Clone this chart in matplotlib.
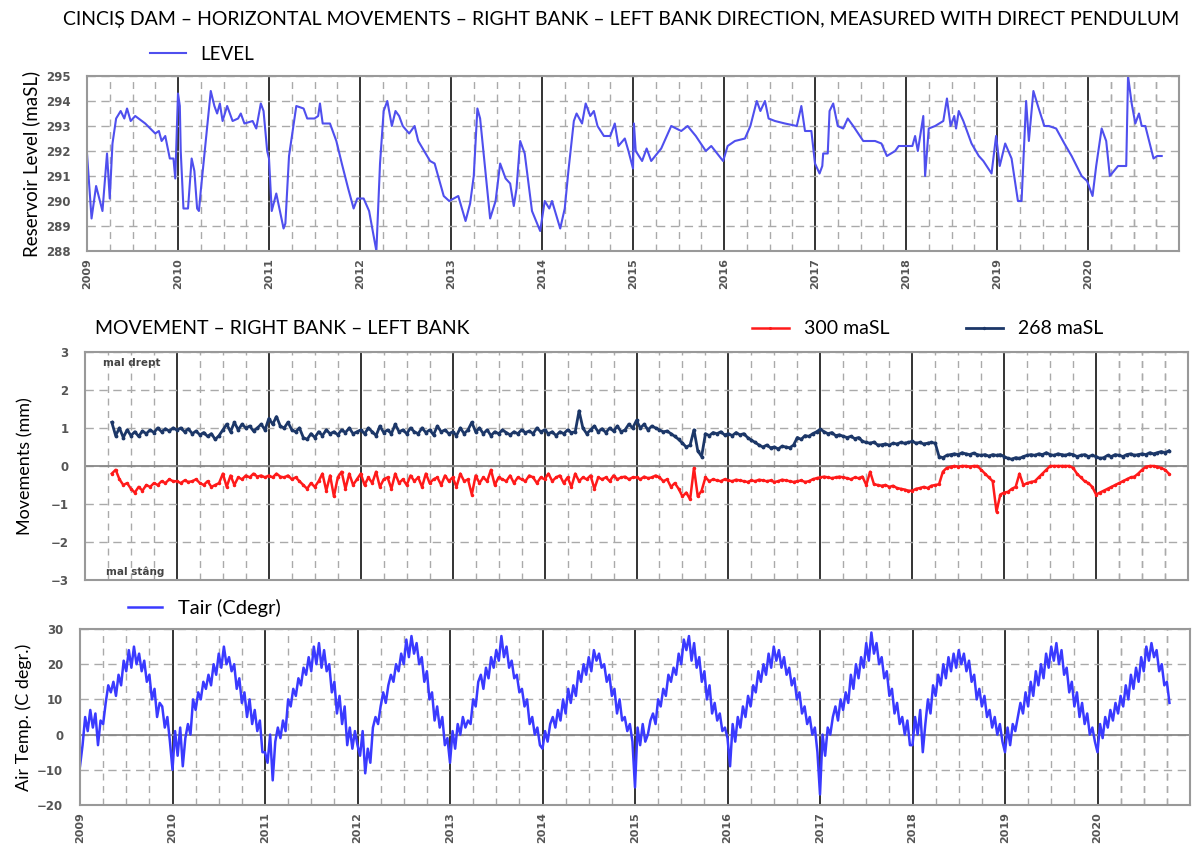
import numpy as np
import matplotlib.pyplot as plt
from matplotlib.ticker import MultipleLocator

# reservoir level (maSL)
lvl_t = [2009.00, 2009.05, 2009.10, 2009.17, 2009.22, 2009.25, 2009.28, 2009.32, 2009.37, 2009.41,
         2009.44, 2009.48, 2009.53, 2009.64, 2009.75, 2009.79, 2009.82, 2009.86, 2009.91, 2009.95,
         2009.97, 2010.00, 2010.02, 2010.03, 2010.06, 2010.11, 2010.15, 2010.18, 2010.21, 2010.23,
         2010.25, 2010.30, 2010.36, 2010.40, 2010.43, 2010.46, 2010.49, 2010.54, 2010.60, 2010.66,
         2010.69, 2010.73, 2010.82, 2010.86, 2010.91, 2010.94, 2010.98, 2011.00, 2011.03, 2011.08,
         2011.12, 2011.16, 2011.18, 2011.22, 2011.26, 2011.30, 2011.38, 2011.42, 2011.50, 2011.54,
         2011.56, 2011.59, 2011.67, 2011.74, 2011.80, 2011.87, 2011.93, 2011.97, 2012.04, 2012.10,
         2012.18, 2012.22, 2012.26, 2012.30, 2012.35, 2012.39, 2012.43, 2012.47, 2012.54, 2012.60,
         2012.64, 2012.77, 2012.82, 2012.92, 2012.98, 2013.08, 2013.16, 2013.21, 2013.25, 2013.29,
         2013.32, 2013.43, 2013.49, 2013.54, 2013.60, 2013.65, 2013.69, 2013.72, 2013.76, 2013.81,
         2013.89, 2013.98, 2014.03, 2014.08, 2014.11, 2014.20, 2014.25, 2014.29, 2014.35, 2014.38,
         2014.44, 2014.48, 2014.53, 2014.57, 2014.61, 2014.68, 2014.75, 2014.80, 2014.84, 2014.91,
         2014.95, 2015.00, 2015.01, 2015.03, 2015.10, 2015.15, 2015.20, 2015.31, 2015.42, 2015.53,
         2015.60, 2015.69, 2015.80, 2015.86, 2015.99, 2016.04, 2016.12, 2016.23, 2016.29, 2016.36,
         2016.40, 2016.45, 2016.49, 2016.56, 2016.67, 2016.80, 2016.85, 2016.89, 2016.96, 2017.00,
         2017.05, 2017.08, 2017.09, 2017.14, 2017.16, 2017.20, 2017.25, 2017.31, 2017.36, 2017.42,
         2017.53, 2017.66, 2017.73, 2017.79, 2017.88, 2017.92, 2017.99, 2018.07, 2018.10, 2018.13,
         2018.19, 2018.21, 2018.25, 2018.32, 2018.41, 2018.45, 2018.49, 2018.53, 2018.55, 2018.58,
         2018.63, 2018.72, 2018.80, 2018.85, 2018.94, 2018.99, 2019.03, 2019.09, 2019.16, 2019.23,
         2019.27, 2019.32, 2019.35, 2019.40, 2019.45, 2019.52, 2019.57, 2019.65, 2019.74, 2019.82,
         2019.93, 2019.99, 2020.05, 2020.09, 2020.15, 2020.20, 2020.24, 2020.33, 2020.42, 2020.44,
         2020.48, 2020.52, 2020.56, 2020.59, 2020.63, 2020.72, 2020.76, 2020.81]
lvl_v = [291.9, 289.3, 290.6, 289.6, 291.9, 290.1, 292.3, 293.3, 293.6, 293.3,
         293.7, 293.2, 293.4, 293.1, 292.7, 292.8, 292.4, 292.6, 291.7, 291.7,
         290.9, 294.3, 293.8, 292.0, 289.7, 289.7, 291.7, 291.2, 289.7, 289.6,
         290.4, 292.2, 294.4, 293.8, 293.5, 293.9, 293.2, 293.8, 293.2, 293.3,
         293.5, 293.1, 293.2, 292.9, 293.9, 293.6, 292.0, 291.7, 289.6, 290.3,
         289.6, 288.9, 289.1, 291.8, 292.8, 293.8, 293.7, 293.3, 293.3, 293.4,
         293.9, 293.1, 293.1, 292.4, 291.5, 290.5, 289.7, 290.1, 290.1, 289.6,
         288.0, 291.5, 293.6, 294.0, 293.0, 293.6, 293.4, 293.0, 292.7, 293.0,
         292.4, 291.6, 291.5, 290.2, 290.0, 290.2, 289.2, 289.9, 291.0, 293.7,
         293.3, 289.3, 290.0, 291.5, 290.9, 290.7, 289.8, 290.5, 292.4, 291.9,
         289.6, 288.8, 290.0, 289.7, 290.0, 288.9, 289.7, 291.2, 293.2, 293.5,
         293.1, 293.9, 293.4, 293.6, 293.0, 292.6, 292.6, 293.1, 292.2, 292.5,
         292.0, 291.3, 293.1, 292.0, 291.6, 292.1, 291.6, 292.1, 293.0, 292.8,
         293.0, 292.6, 292.0, 292.2, 291.6, 292.2, 292.4, 292.5, 293.0, 294.0,
         293.6, 294.0, 293.3, 293.2, 293.1, 293.0, 293.8, 292.8, 292.8, 291.5,
         291.1, 291.4, 291.9, 291.9, 293.6, 293.9, 293.0, 292.9, 293.3, 293.0,
         292.4, 292.4, 292.3, 291.8, 292.0, 292.2, 292.2, 292.2, 292.6, 292.0,
         293.4, 291.0, 292.9, 293.0, 293.2, 294.1, 293.0, 293.4, 292.9, 293.6,
         293.2, 292.3, 291.8, 291.6, 291.1, 292.6, 291.4, 292.3, 291.7, 290.0,
         290.0, 294.0, 292.4, 294.4, 293.8, 293.0, 293.0, 292.9, 292.3, 291.8,
         291.0, 290.8, 290.2, 291.4, 292.9, 292.4, 291.0, 291.4, 291.4, 295.0,
         293.9, 293.1, 293.5, 293.0, 293.0, 291.7, 291.8, 291.8]

# pendulum movements (mm), two readings a month from April 2009
mv_start = 2009 + 7 / 24
mov_268 = [1.15, 0.8, 1.0, 0.75, 0.95, 0.8, 0.9, 0.78, 0.92, 0.85, 0.95, 0.88, 1.0, 0.9, 0.98, 0.92, 1.0,
           0.95, 1.0, 0.9, 0.98, 0.85, 0.92, 0.82, 0.88, 0.78, 0.85, 0.7, 0.8, 0.95, 1.1, 0.9, 1.15, 0.95, 1.1, 1.0, 1.05, 0.92, 1.0, 1.1, 0.95,
           1.25, 1.1, 1.3, 1.05, 1.0, 1.15, 0.95, 0.9, 1.0, 0.75, 0.7, 0.85, 0.75, 0.9, 0.8, 0.95, 0.85, 0.9, 0.82, 0.95, 0.88, 1.0, 0.85, 0.9,
           0.95, 0.85, 1.0, 0.9, 0.8, 1.05, 0.88, 0.95, 0.85, 1.1, 0.9, 0.95, 0.85, 1.0, 0.9, 0.85, 1.0, 0.88, 0.95, 0.82, 1.05, 0.9, 0.95, 0.85,
           0.9, 0.8, 1.0, 0.85, 0.95, 1.15, 0.9, 1.0, 0.85, 0.95, 0.8, 0.9, 0.85, 0.95, 0.88, 0.82, 0.9, 0.85, 0.95, 0.88, 0.92, 0.85, 1.0, 0.9,
           0.95, 0.85, 0.9, 0.8, 0.9, 0.85, 0.95, 0.88, 0.9, 1.45, 1.0, 0.85, 0.95, 1.05, 0.9, 0.98, 0.88, 1.0, 0.92, 1.05, 0.9, 0.95, 1.1, 1.0,
           1.2, 1.0, 1.1, 0.95, 1.05, 1.0, 0.95, 0.9, 0.92, 0.85, 0.78, 0.7, 0.6, 0.5, 0.55, 0.95, 0.4, 0.25, 0.85, 0.8, 0.88, 0.85, 0.9, 0.82,
           0.85, 0.8, 0.88, 0.82, 0.85, 0.75, 0.68, 0.62, 0.55, 0.5, 0.55, 0.48, 0.5, 0.45, 0.52, 0.5, 0.48, 0.55, 0.75, 0.7, 0.8, 0.78, 0.85, 0.9,
           0.97, 0.9, 0.85, 0.88, 0.8, 0.82, 0.78, 0.75, 0.78, 0.72, 0.75, 0.65, 0.62, 0.6, 0.63, 0.55, 0.56, 0.58, 0.55, 0.6, 0.58, 0.62, 0.6, 0.62,
           0.65, 0.6, 0.62, 0.58, 0.6, 0.62, 0.6, 0.25, 0.22, 0.28, 0.3, 0.32, 0.3, 0.35, 0.32, 0.3, 0.34, 0.3, 0.28, 0.3, 0.26, 0.3, 0.28, 0.3,
           0.25, 0.2, 0.18, 0.22, 0.2, 0.25, 0.28, 0.3, 0.28, 0.32, 0.3, 0.35, 0.3, 0.28, 0.32, 0.3, 0.28, 0.32, 0.3, 0.25, 0.28, 0.3, 0.25, 0.28,
           0.25, 0.2, 0.22, 0.28, 0.25, 0.3, 0.28, 0.25, 0.3, 0.32, 0.28, 0.3, 0.32, 0.3, 0.35, 0.32, 0.35, 0.38, 0.35, 0.4]
mov_300 = [-0.2, -0.1, -0.35, -0.5, -0.45, -0.6, -0.7, -0.55, -0.65, -0.5, -0.55, -0.45, -0.5, -0.4, -0.45, -0.35, -0.4,
           -0.4, -0.45, -0.38, -0.42, -0.4, -0.35, -0.45, -0.5, -0.4, -0.55, -0.5, -0.45, -0.2, -0.55, -0.25, -0.5, -0.3, -0.35, -0.25, -0.3, -0.2, -0.28, -0.25, -0.3,
           -0.25, -0.3, -0.2, -0.28, -0.3, -0.25, -0.35, -0.3, -0.4, -0.5, -0.6, -0.45, -0.55, -0.4, -0.2, -0.65, -0.25, -0.8, -0.3, -0.15, -0.6, -0.2, -0.5, -0.35,
           -0.2, -0.5, -0.3, -0.45, -0.15, -0.55, -0.35, -0.3, -0.6, -0.2, -0.45, -0.35, -0.5, -0.25, -0.4, -0.3, -0.55, -0.2, -0.45, -0.35, -0.3, -0.5, -0.25, -0.4,
           -0.3, -0.55, -0.2, -0.4, -0.35, -0.75, -0.25, -0.45, -0.3, -0.4, -0.1, -0.5, -0.3, -0.35, -0.4, -0.25, -0.45, -0.3, -0.35, -0.4, -0.25, -0.3, -0.45, -0.3,
           -0.35, -0.2, -0.4, -0.3, -0.25, -0.45, -0.3, -0.55, -0.2, -0.4, -0.3, -0.35, -0.25, -0.6, -0.3, -0.35, -0.3, -0.4, -0.25, -0.35, -0.3, -0.28, -0.35, -0.3,
           -0.3, -0.35, -0.28, -0.32, -0.3, -0.25, -0.3, -0.4, -0.35, -0.55, -0.45, -0.6, -0.8, -0.7, -0.88, -0.05, -0.8, -0.65, -0.3, -0.4, -0.35, -0.38, -0.4, -0.35,
           -0.38, -0.4, -0.36, -0.38, -0.4, -0.42, -0.38, -0.4, -0.36, -0.38, -0.4, -0.38, -0.42, -0.4, -0.36, -0.38, -0.4, -0.42, -0.4, -0.38, -0.42, -0.4, -0.35, -0.32,
           -0.3, -0.28, -0.3, -0.32, -0.3, -0.28, -0.3, -0.32, -0.35, -0.3, -0.32, -0.28, -0.5, -0.15, -0.48, -0.5, -0.52, -0.5, -0.55, -0.52, -0.58, -0.6, -0.62, -0.65,
           -0.65, -0.6, -0.58, -0.55, -0.58, -0.52, -0.5, -0.48, -0.15, -0.05, -0.02, 0.0, -0.02, 0.0, 0.0, -0.02, 0.0, 0.0, -0.1, -0.2, -0.3, -0.4, -1.2, -0.75,
           -0.7, -0.68, -0.6, -0.55, -0.2, -0.5, -0.45, -0.42, -0.4, -0.3, -0.2, -0.1, 0.0, 0.0, 0.0, 0.0, 0.0, 0.0, -0.05, -0.2, -0.3, -0.4, -0.45, -0.55,
           -0.75, -0.7, -0.65, -0.6, -0.55, -0.5, -0.45, -0.4, -0.35, -0.3, -0.28, -0.2, -0.1, -0.02, 0.0, 0.0, -0.02, -0.05, -0.1, -0.2]

# air temperature (C), about every 10 days from Jan 2009
tair = [-9, -3, 5, 1, 7, 2, 6, -3, 4, 3, 9, 14, 12, 15, 11, 17, 14, 21, 18, 24, 19, 25, 20, 23, 18, 21, 15, 17, 10, 13, 5, 9, 8, 2, 5, -2,
        -10, 1, -6, 2, -9, -1, 3, 0, 10, 7, 12, 10, 15, 13, 17, 14, 20, 17, 23, 19, 25, 20, 22, 18, 20, 13, 16, 9, 12, 5, 10, 3, 7, 1, 4, -5,
        -5, -8, 0, -13, -2, 2, -1, 4, 1, 10, 8, 13, 11, 16, 14, 19, 17, 22, 18, 25, 20, 26, 19, 24, 18, 20, 12, 15, 6, 11, 3, 8, -3, 2, -4, 1,
        -3, -6, 1, -11, -4, -8, 2, 5, 3, 8, 12, 9, 14, 17, 15, 20, 18, 23, 20, 27, 22, 28, 23, 26, 20, 22, 15, 18, 10, 12, 4, 8, 2, 5, -3, -1,
        -8, 1, -4, 3, 0, 5, 2, 4, 3, 10, 8, 15, 17, 13, 19, 16, 22, 19, 24, 21, 28, 22, 25, 19, 21, 16, 17, 12, 13, 8, 10, 3, 5, 0, 2, -3,
        -4, 1, -2, 3, 5, 2, 7, 4, 10, 6, 13, 9, 14, 11, 18, 15, 20, 17, 22, 18, 24, 21, 23, 19, 20, 15, 17, 11, 13, 6, 10, 4, 5, 1, 3, -2,
        -15, 2, -3, 3, -2, 0, 4, 6, 3, 10, 8, 13, 11, 17, 15, 19, 17, 23, 20, 27, 24, 28, 21, 26, 19, 22, 15, 18, 10, 14, 6, 9, 4, 6, 1, 2,
        -1, -9, 3, -2, 5, 2, 8, 5, 11, 8, 14, 12, 18, 15, 20, 17, 23, 19, 25, 21, 24, 19, 22, 17, 19, 14, 16, 10, 12, 6, 8, 3, 5, 0, 2, -5,
        -17, 0, -6, 2, 0, 5, 8, 4, 10, 7, 12, 9, 17, 13, 20, 16, 22, 19, 26, 21, 29, 23, 26, 20, 22, 16, 18, 11, 13, 6, 9, 3, 5, 0, 4, -3,
        -3, 5, 0, 7, -5, 3, 10, 6, 14, 11, 17, 14, 20, 16, 22, 18, 23, 19, 24, 20, 23, 18, 21, 15, 17, 10, 13, 8, 11, 5, 7, 2, 5, 0, 3, -2,
        -5, 2, -3, 3, 1, 5, 9, 6, 12, 8, 15, 11, 18, 14, 20, 16, 23, 19, 25, 21, 26, 20, 24, 17, 19, 12, 15, 8, 12, 5, 9, 3, 6, 0, 2, -2,
        -5, 3, -1, 5, 2, 7, 4, 9, 6, 11, 8, 14, 10, 17, 13, 19, 15, 22, 18, 25, 21, 26, 22, 24, 18, 20, 14, 15, 9]

years = list(range(2009, 2021))
title = 'CINCIȘ DAM – HORIZONTAL MOVEMENTS – RIGHT BANK – LEFT BANK DIRECTION, MEASURED WITH DIRECT PENDULUM'

mv_t = mv_start + np.arange(len(mov_268)) / 24
tair_t = 2009 + np.arange(len(tair)) / 36

plt.rcParams['font.family'] = ['Lato', 'DejaVu Sans']
W, H = 1200, 851
fig = plt.figure(figsize=(12, 8.51), dpi=100)


def box(l, t, r, b):
    return [l / W, 1 - b / H, (r - l) / W, (b - t) / H]


def style(ax, ylo, yhi, ystep, labels=True):
    ax.set_xlim(2009, 2021)
    ax.set_ylim(ylo, yhi)
    ax.set_xticks(years)
    ax.set_xticks([y + q / 4 for y in years + [2020] for q in (1, 2, 3)], minor=True)
    ax.yaxis.set_major_locator(MultipleLocator(ystep))
    ax.grid(which='major', axis='x', color='#333333', lw=1.4, ls='-')
    ax.grid(which='minor', axis='x', color='#aaaaaa', lw=1.0, ls=(0, (5, 4)))
    ax.grid(which='major', axis='y', color='#aaaaaa', lw=1.0, ls=(0, (6, 4)))
    ax.set_axisbelow(True)
    for s in ax.spines.values():
        s.set_color('#999999')
        s.set_linewidth(1.5)
    ax.tick_params(axis='y', length=0, pad=12, labelsize=8.5, labelcolor='#555555')
    ax.tick_params(axis='x', which='both', length=0, pad=5, labelsize=8, labelcolor='#555555')
    for lab in ax.get_yticklabels():
        lab.set_family('DejaVu Sans')
        lab.set_weight('bold')
    if labels:
        ax.set_xticklabels([str(y) for y in years], rotation=90, family='DejaVu Sans', weight='bold')
    else:
        ax.set_xticklabels([])


# top: reservoir level
ax1 = fig.add_axes(box(87, 76, 1179, 251))
style(ax1, 288, 295, 1)
ln1, = ax1.plot(lvl_t, lvl_v, color='#4f4fee', lw=1.5)
ax1.set_ylabel('Reservoir Level (maSL)', fontsize=13.5, labelpad=4)
fig.legend([ln1], ['LEVEL'], loc='center left', bbox_to_anchor=(150 / W, 1 - 54 / H), frameon=False,
           fontsize=13.5, handlelength=1.9, handletextpad=0.8, borderpad=0, borderaxespad=0)

# middle: movements
ax2 = fig.add_axes(box(85, 352, 1188, 580))
style(ax2, -3, 3, 1, labels=False)
ax2.axhline(0, color='#888888', lw=1.3, zorder=1)
ln3, = ax2.plot(mv_t, mov_300, color='#ff1a1a', lw=1.8, marker='.', ms=3)
ln2, = ax2.plot(mv_t, mov_268, color='#1c3768', lw=2.0, marker='.', ms=3.5)
ax2.set_ylabel('Movements (mm)', fontsize=13, labelpad=12)
ax2.text(0.016, 0.95, 'mal drept', transform=ax2.transAxes, fontsize=7.5, weight='bold',
         color='#444444', va='center', family='DejaVu Sans')
ax2.text(0.019, 0.037, 'mal stâng', transform=ax2.transAxes, fontsize=7.5, weight='bold',
         color='#444444', va='center', family='DejaVu Sans')
fig.text(95 / W, 1 - 328 / H, 'MOVEMENT – RIGHT BANK – LEFT BANK', fontsize=14, va='center')
fig.legend([ln3, ln2], ['300 maSL', '268 maSL'], loc='center left', ncol=2,
           bbox_to_anchor=(752 / W, 1 - 329 / H), frameon=False, fontsize=14,
           handlelength=1.9, handletextpad=0.8, columnspacing=3.9, borderpad=0, borderaxespad=0,
           markerscale=0.8)

# bottom: air temperature
ax3 = fig.add_axes(box(80, 629, 1190, 805))
style(ax3, -20, 30, 10)
ax3.axhline(0, color='#888888', lw=1.3, zorder=1)
ln4, = ax3.plot(tair_t, tair, color='#3a3aff', lw=1.8)
ax3.set_ylabel('Air Temp. (C degr.)', fontsize=13, labelpad=4)
fig.legend([ln4], ['Tair (Cdegr)'], loc='center left', bbox_to_anchor=(128 / W, 1 - 608 / H), frameon=False,
           fontsize=14.5, handlelength=1.7, handletextpad=0.8, borderpad=0, borderaxespad=0)

fig.text(0.518, 1 - 19 / H, title, fontsize=14, ha='center', va='center')

fig.savefig('out.png', dpi=100)
